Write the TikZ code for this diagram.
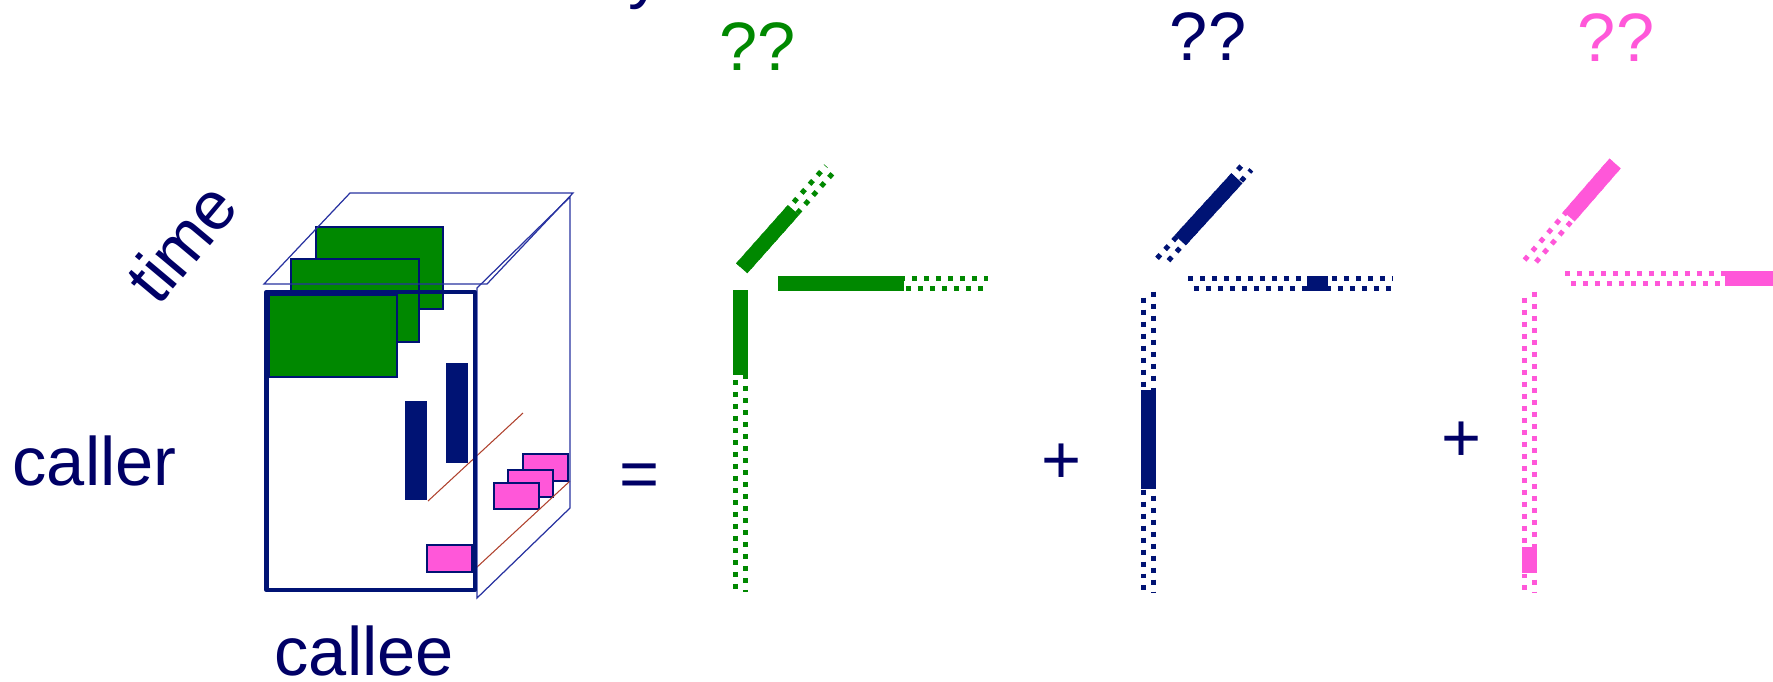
\documentclass[tikz,border=0pt]{standalone}
\usepackage{fontspec}
\setmainfont{Liberation Sans}
\usepackage{xcolor}
\definecolor{navytxt}{RGB}{0,0,102}
\definecolor{navybar}{RGB}{0,19,116}
\definecolor{grn}{RGB}{0,136,0}
\definecolor{pnk}{RGB}{255,87,217}
\definecolor{framebl}{RGB}{40,50,160}
\definecolor{brn}{RGB}{175,65,45}

\begin{document}
\begin{tikzpicture}[x=0.01cm,y=-0.01cm,font=\fontsize{19.5}{23}\selectfont,
  lbl/.style={text=navytxt,inner sep=0pt},
  frame/.style={draw=framebl,line width=0.35pt},
  blk/.style={draw=navybar,line width=0.3pt},
  dotbox/.style={draw=#1,line width=1.42pt,dash pattern=on 1.42pt off 1.99pt}]
\useasboundingbox (0,0) rectangle (1773,681);
\clip (0,0) rectangle (1773,681);
% labels
\node[lbl,anchor=base west] (cut) at (627.5,-4.3) {y};
\node[lbl,rotate=50] (time) at (181,242) {time};
\node[lbl,anchor=base west] (caller) at (12,485) {caller};
\node[lbl,anchor=base west] (callee) at (274,675.5) {callee};
% cube contents
\filldraw[fill=grn,blk] (316,227) rectangle (443,309);
\filldraw[fill=grn,blk] (291,259) rectangle (419,342);
\filldraw[fill=grn,blk] (269,295) rectangle (397,377);
\fill[navybar] (446,363) rectangle (468,463);
\fill[navybar] (405,401) rectangle (427,500);
\filldraw[fill=pnk,blk] (523,454) rectangle (568,481);
\filldraw[fill=pnk,blk] (508,470) rectangle (553,497);
\filldraw[fill=pnk,blk] (494,483) rectangle (539,509);
\filldraw[fill=pnk,blk] (427,545) rectangle (472,572);
\draw[brn,line width=0.3pt] (428,501) -- (523,413);
\draw[brn,line width=0.3pt] (476,568) -- (570,481);
% cube frame
\draw[frame] (264,284) -- (487,284) -- (573,193) -- (350,193) -- cycle;
\draw[frame] (477,288) -- (570,197) -- (570,508) -- (477,598) -- cycle;
\draw[navybar,line width=1.3pt,line join=round] (266.5,292) rectangle (475,590);
% signs
\node[lbl,anchor=base] (eq) at (640,497) {=};
\node[lbl,anchor=base] (plusa) at (1062,483) {+};
\node[lbl,anchor=base] (plusb) at (1461.5,461) {+};
\node[inner sep=0pt,anchor=base,text=grn] (qgrn) at (757.5,70) {??};
\node[lbl,anchor=base] (qnvy) at (1208,60) {??};
\node[inner sep=0pt,anchor=base,text=pnk] (qpnk) at (1616,61) {??};
% projected axes: start x/y, angle, length, filled part, colour
\foreach \px/\py/\ang/\len/\fa/\fb/\col in {
  740.7/290/-90/302/0/85/grn, 780/283.3/0/208/-2/124/grn,
  741.7/268.3/48.4/132.5/0/78/grn,
  1148.7/291.7/-90/300/98.3/197.3/navybar, 1188/283/0/204/119/140/navybar,
  1160.7/261.7/47.6/129/29/113/navybar,
  1529.9/291.7/-90/300/255/281.6/pnk, 1565/278.7/0/206/160/210/pnk,
  1528.3/263.3/49/132.3/62/132.3/pnk}{
  \begin{scope}[shift={(\px,\py)},rotate=\ang]
    \fill[\col] (\fa,-7.5) rectangle (\fb,7.5);
    \draw[dotbox=\col] (0,-5) -- (\len,-5);
    \draw[dotbox=\col,dash phase=1.71pt] (0,5) -- (\len,5);
  \end{scope}
}
\end{tikzpicture}
\end{document}
